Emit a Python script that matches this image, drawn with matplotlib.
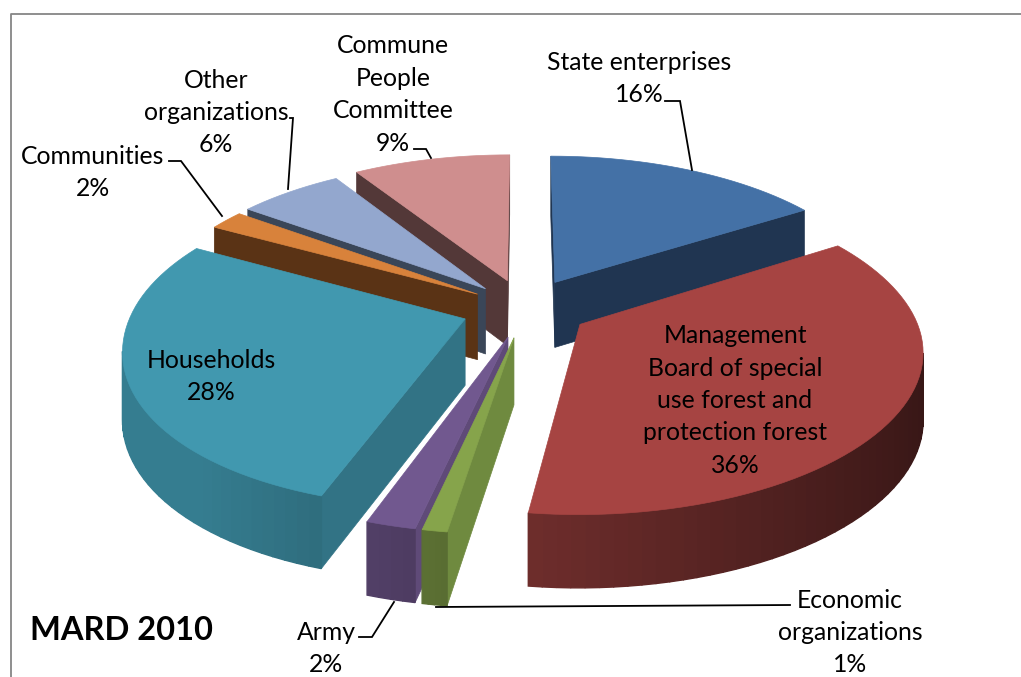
import numpy as np
import matplotlib
matplotlib.use('Agg')
import matplotlib.pyplot as plt
from matplotlib.patches import Polygon

plt.rcParams['font.family'] = ['Lato', 'DejaVu Sans']

categories = ['State enterprises', 'Management Board', 'Economic organizations', 'Army',
              'Households', 'Communities', 'Other organizations', 'Commune People Committee']
shares = [16, 36, 1, 2, 28, 2, 6, 9]

explode = [0.195, 0.195, 0.19, 0.19, 0.19, 0.17, 0.175, 0.19]
top_colors = ['#4471A6', '#A64442', '#86A44B', '#71588F', '#4198AF', '#D8823B', '#93A7CE', '#CF8E8E']
side_colors = ['#203551', '#53201F', '#6F8A3F', '#5F4A78', '#327385', '#5A3315', '#3A4658', '#533838']
# back to front
draw_order = [7, 6, 5, 0, 4, 1, 3, 2]

CX, CY = 524.5, 308
BX, BY = 332, 154
PERSP = 0.16
DEPTH = 66


def project(gx, gy, h=0.0):
  s = 1 / (1 + PERSP * gy)
  # the front of the pie leans a bit to the left
  lean = -10 * gy ** 2 if gy < 0 else 0
  return CX + BX * gx * s + lean, CY - BY * gy * s + h / (1 + 0.09 * gy)


def area(pts):
  p = np.array(pts)
  q = np.roll(p, -1, axis=0)
  return np.sum(p[:, 0] * q[:, 1] - q[:, 0] * p[:, 1])


def shade(hex_color, f):
  rgb = np.array(matplotlib.colors.to_rgb(hex_color))
  return tuple(rgb * f)


def draw_slice(ax, a0, a1, ex, top, side):
  mid = np.radians((a0 + a1) / 2)
  ox, oy = ex * np.cos(mid), ex * np.sin(mid)
  angles = np.radians(np.linspace(a0, a1, max(int(abs(a1 - a0) / 2), 4) + 1))
  gx = ox + np.cos(angles)
  gy = oy + np.sin(angles)
  tip_t = project(ox, oy)
  tip_b = project(ox, oy, DEPTH)
  rim_t = [project(x, y) for x, y in zip(gx, gy)]
  rim_b = [project(x, y, DEPTH) for x, y in zip(gx, gy)]

  # radial walls, only those facing the viewer
  q = [tip_t, rim_t[0], rim_b[0], tip_b]
  if area(q) < 0:
    ax.add_patch(Polygon(q, fc=side, ec=side, lw=0.5))
  q = [tip_t, rim_t[-1], rim_b[-1], tip_b]
  if area(q) > 0:
    ax.add_patch(Polygon(q, fc=side, ec=side, lw=0.5))

  # outer wall in strips so the shading can change with the angle
  for i in range(len(angles) - 1):
    q = [rim_t[i], rim_t[i + 1], rim_b[i + 1], rim_b[i]]
    if area(q) < 0:
      f = np.clip(0.63 - 0.3 * np.cos(angles[i]), 0.3, 0.82)
      c = shade(top, f)
      ax.add_patch(Polygon(q, fc=c, ec=c, lw=1.0))

  ax.add_patch(Polygon([tip_t] + rim_t, fc=top, ec=top, lw=0.5))


fig = plt.figure(figsize=(10.21, 6.77), dpi=100)
ax = fig.add_axes([0, 0, 1, 1])
ax.set_xlim(0, 1021)
ax.set_ylim(677, 0)
ax.axis('off')

# chart frame, cut off on the right and at the bottom
ax.plot([11, 11, 1021], [677, 14, 14], color='#868686', lw=1.3)

edges = 90 - 3.6 * np.concatenate([[0], np.cumsum(shares)])
for i in draw_order:
  draw_slice(ax, edges[i], edges[i + 1], explode[i], top_colors[i], side_colors[i])

leaders = [
    ([665, 680, 692], [101, 101, 170]),
    ([414, 426, 431], [149, 149, 158]),
    ([290, 293, 288], [118, 118, 189]),
    ([169, 181, 222], [161, 161, 216]),
    ([359, 372, 394], [637, 637, 602]),
    ([790, 436], [605, 607]),
]
for xs, ys in leaders:
  ax.plot(xs, ys, color='black', lw=1.3, solid_joinstyle='miter')

labels = [
    ('State enterprises\n16%', 639, 78.5),
    ('Commune\nPeople\nCommittee\n9%', 393, 94.5),
    ('Other\norganizations\n6%', 216, 112.5),
    ('Communities\n2%', 93, 172.5),
    ('Households\n28%', 211, 376.5),
    ('Management\nBoard of special\nuse forest and\nprotection forest\n36%', 735, 400.5),
    ('Economic\norganizations\n1%', 850, 632.5),
    ('Army\n2%', 326, 648.5),
]
for text, x, y in labels:
  ax.text(x, y, text, ha='center', va='center', fontsize=17.8, linespacing=1.5, color='black')

ax.text(30, 631, 'MARD 2010', ha='left', va='center', fontsize=23.5, fontweight='bold', color='black')

fig.savefig('out.png', dpi=100)
